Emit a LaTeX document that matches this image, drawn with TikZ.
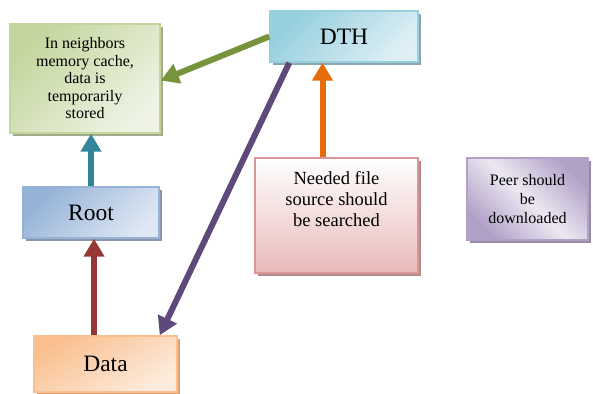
\documentclass[tikz,border=0pt]{standalone}
\usepackage{fontspec}
\setmainfont{Liberation Serif}
\usetikzlibrary{arrows.meta, positioning, shadows}
\definecolor{cachegreen}{RGB}{196,214,158}
\definecolor{cachelight}{RGB}{238,243,228}
\definecolor{cacheshade}{RGB}{162,172,136}
\definecolor{dthcyan}{RGB}{150,207,222}
\definecolor{dthlight}{RGB}{222,239,245}
\definecolor{dthshade}{RGB}{138,168,178}
\definecolor{rootblue}{RGB}{149,179,215}
\definecolor{rootlight}{RGB}{222,231,243}
\definecolor{rootshade}{RGB}{138,150,168}
\definecolor{dataorange}{RGB}{250,191,143}
\definecolor{datalight}{RGB}{253,236,222}
\definecolor{datashade}{RGB}{222,160,112}
\definecolor{searchpink}{RGB}{217,150,148}
\definecolor{searchfill}{RGB}{232,186,185}
\definecolor{searchshade}{RGB}{178,140,140}
\definecolor{peerpurple}{RGB}{178,161,199}
\definecolor{peerlight}{RGB}{236,232,242}
\definecolor{peershade}{RGB}{150,140,166}
\definecolor{argreen}{RGB}{119,147,60}
\definecolor{arteal}{RGB}{49,133,155}
\definecolor{arred}{RGB}{149,55,53}
\definecolor{arpurple}{RGB}{95,73,122}
\definecolor{arorange}{RGB}{228,108,10}

\begin{document}
\begin{tikzpicture}[x=1pt, y=1pt,
  box/.style={rectangle, line width=1.5pt, align=center, inner sep=0pt},
  bigtext/.style={font=\fontsize{23.5}{27}\selectfont},
  cachebox/.style={box, draw=cachegreen, top color=cachegreen, bottom color=cachelight,
    shading angle=45, drop shadow={shadow xshift=3pt, shadow yshift=-3pt, fill=cacheshade, opacity=1}},
  dthbox/.style={box, bigtext, draw=dthcyan, top color=dthcyan, bottom color=dthlight,
    shading angle=45, drop shadow={shadow xshift=3pt, shadow yshift=-3pt, fill=dthshade, opacity=1}},
  rootbox/.style={box, bigtext, draw=rootblue, top color=rootblue, bottom color=rootlight,
    shading angle=45, drop shadow={shadow xshift=3pt, shadow yshift=-3pt, fill=rootshade, opacity=1}},
  databox/.style={box, bigtext, draw=dataorange, top color=dataorange, bottom color=datalight,
    shading angle=30, drop shadow={shadow xshift=3pt, shadow yshift=-3pt, fill=datashade, opacity=1}},
  searchbox/.style={box, draw=searchpink, top color=white, bottom color=searchfill,
    drop shadow={shadow xshift=3pt, shadow yshift=-3pt, fill=searchshade, opacity=1}},
  peerbox/.style={box, draw=peerpurple, top color=peerpurple, bottom color=peerpurple, middle color=peerlight,
    shading angle=-45, drop shadow={shadow xshift=3pt, shadow yshift=-3pt, fill=peershade, opacity=1}},
  ar/.style={-{Triangle[width=20pt, length=18pt]}, line width=6pt}]
\useasboundingbox (0,0) rectangle (593,393);
\node[cachebox, minimum width=150pt, minimum height=109pt, font=\fontsize{16}{17.5}\selectfont] (cache) at (85,314.5)
  {In neighbors\\memory cache,\\data is\\temporarily\\stored};
\node[dthbox, minimum width=148pt, minimum height=51pt] (dth) at (344,356.5) {DTH};
\node[rootbox, minimum width=136pt, minimum height=51pt] (root) at (91,180.5) {Root};
\node[databox, minimum width=143pt, minimum height=56pt] (data) at (105.5,29) {Data};
\node[searchbox, minimum width=163pt, minimum height=115pt] (search) at (336.5,177.5) {};
\node[font=\fontsize{18.5}{21}\selectfont, align=center, inner sep=0pt, below=14pt of search.north] (searchtxt)
  {Needed file\\source should\\be searched};
\node[peerbox, minimum width=121pt, minimum height=82pt, font=\fontsize{16}{19}\selectfont] (peer) at (527.5,194)
  {Peer should\\be\\downloaded};
\draw[ar, argreen] (dth.west) -- ([yshift=-2pt]cache.east);
\draw[ar, arteal] (root.north) -- (root.north |- cache.south);
\draw[ar, arred] ([xshift=3pt]root.south |- data.north) -- ([xshift=3pt]root.south);
\draw[ar, arpurple] ([xshift=20pt]dth.south west) -- ([xshift=-18pt]data.north east);
\draw[ar, arorange] ([xshift=-14pt]search.north) -- ([xshift=-14pt]search.north |- dth.south);
\end{tikzpicture}
\end{document}
